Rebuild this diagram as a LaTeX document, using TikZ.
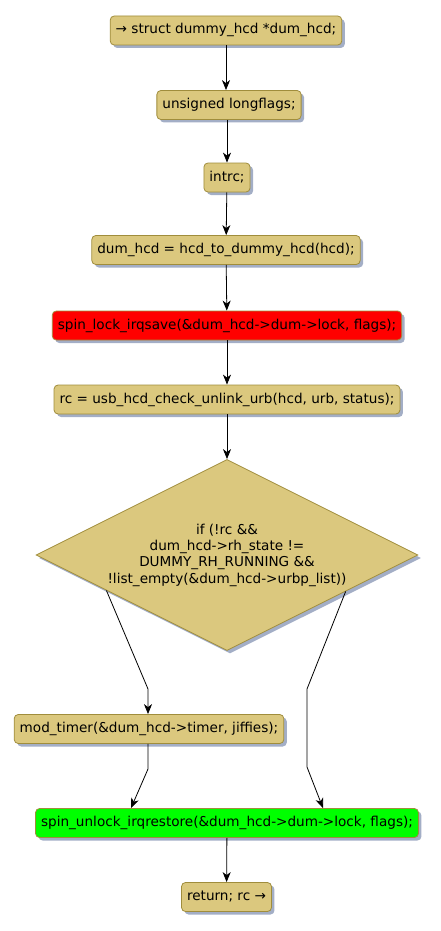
\documentclass[tikz,border=0pt]{standalone}
\usepackage{fontspec}
\setmainfont{DejaVu Sans}
\usetikzlibrary{shapes.geometric,shadows,arrows.meta,calc}
\definecolor{boxfill}{HTML}{DBC87E}
\definecolor{boxline}{HTML}{A08D3C}
\definecolor{shadowc}{HTML}{A3AEC6}
\tikzset{
  x=1pt,y=1pt,
  act/.style={rectangle, rounded corners=4pt, draw=boxline, line width=0.8pt, fill=boxfill,
    font=\fontsize{13.6}{16}\selectfont, inner xsep=5.5pt, minimum height=29pt, text height=10pt, text depth=3pt,
    copy shadow={shadow xshift=3pt, shadow yshift=-3pt, fill=shadowc, draw=none}},
  decision/.style={diamond, draw=boxline, line width=0.8pt, fill=boxfill, inner sep=0pt,
    copy shadow={shadow xshift=3pt, shadow yshift=-3pt, fill=shadowc, draw=none}},
  flow/.style={-{Stealth[length=10pt,width=8pt,inset=3pt]}, line width=0.8pt, black},
}
\begin{document}
\begin{tikzpicture}
\useasboundingbox (0,0) rectangle (440,-931);
\node[act] (n1) at (226,-30.5) {→ struct dummy\_hcd *dum\_hcd;};
\node[act] (n2) at (229,-105) {unsigned longflags;};
\node[act] (n3) at (227,-177.5) {intrc;};
\node[act] (n4) at (226,-250) {dum\_hcd = hcd\_to\_dummy\_hcd(hcd);};
\node[act, fill=red] (n5) at (227,-325.5) {spin\_lock\_irqsave(\&dum\_hcd->dum->lock, flags);};
\node[act] (n6) at (227,-399.5) {rc = usb\_hcd\_check\_unlink\_urb(hcd, urb, status);};
\node[decision, minimum width=382pt, minimum height=191pt] (d) at (227,-555) {};
\node[align=center, font=\fontsize{13.6}{16.3}\selectfont] (dt) at (227,-555) {if (!rc \&\&\\dum\_hcd->rh\_state !=\\DUMMY\_RH\_RUNNING \&\&\\!list\_empty(\&dum\_hcd->urbp\_list))};
\node[act] (n7) at (149,-729) {mod\_timer(\&dum\_hcd->timer, jiffies);};
\node[act, fill=green] (n8) at (227,-823) {spin\_unlock\_irqrestore(\&dum\_hcd->dum->lock, flags);};
\node[act] (n9) at (226.5,-897) {return; rc →};

\coordinate (dl) at ($(d.west)!0.37!(d.south)$);
\coordinate (dr) at ($(d.east)!0.38!(d.south)$);
\coordinate (l1) at (148,-689);
\coordinate (r1) at (307,-689);
\coordinate (r2) at (307,-767);
\coordinate (m1) at (148,-769);

\draw[flow] (n1) -- (n2.north -| n1);
\draw[flow] (n2.south -| n3) -- (n3);
\draw[flow] (n3) -- (n4);
\draw[flow] (n4) -- (n5);
\draw[flow] (n5) -- (n6);
\draw[flow] (n6) -- (d.north);
\draw[flow] (dl) -- (l1) -- (n7.north -| l1);
\draw[flow] (dr) -- (r1) -- (r2) -- ([xshift=96pt]n8.north);
\draw[flow] (n7.south -| m1) -- (m1) -- ([xshift=-96pt]n8.north);
\draw[flow] (n8) -- (n9);
\end{tikzpicture}
\end{document}
